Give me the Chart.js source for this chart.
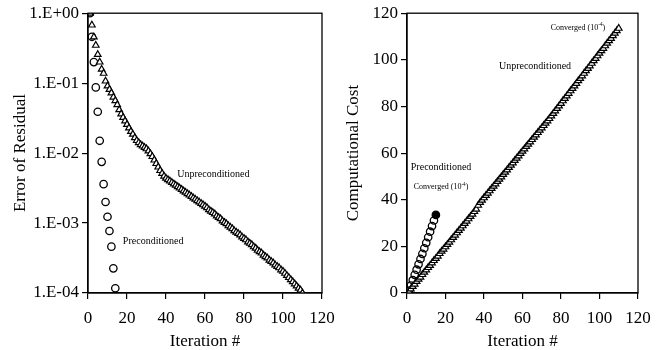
<!DOCTYPE html>
<html><head><meta charset="utf-8">
<script src="https://cdn.jsdelivr.net/npm/chart.js@4"></script>
<style>
html,body{margin:0;padding:0;background:#fff;}
#wrap{position:relative;width:658px;height:350px;background:#fff;}
#c1{position:absolute;left:0;top:0;}
#c2{position:absolute;left:330px;top:0;}
</style></head><body>
<div id="wrap"><canvas id="c1" width="345" height="350"></canvas><canvas id="c2" width="328" height="350"></canvas></div>
<script>
// ---------- data ----------
const xTicks = [0, 20, 40, 60, 80, 100, 120];
const yLogTickValues = [1, 0.1, 0.01, 0.001, 0.0001];
const yLogTickLabels = ['1.E+00', '1.E-01', '1.E-02', '1.E-03', '1.E-04'];
const yCostTicks = [0, 20, 40, 60, 80, 100, 120];

// Error of residual, unpreconditioned (iterations 1..110)
const errUnpre = [
1.0, 0.676, 0.457, 0.347, 0.257, 0.200, 0.158, 0.138, 0.107, 0.0912,
0.0813, 0.0724, 0.0631, 0.0562, 0.0490, 0.0417, 0.0363, 0.0324, 0.0288, 0.0257,
0.0229, 0.0204, 0.0186, 0.0166, 0.0151, 0.0141, 0.0132, 0.0126, 0.0120, 0.0115,
0.0107, 0.00977, 0.00891, 0.00794, 0.00708, 0.00631, 0.00562, 0.00513, 0.00468, 0.00437,
0.00417, 0.00398, 0.00380, 0.00363, 0.00347, 0.00331, 0.00316, 0.00302, 0.00288, 0.00275,
0.00263, 0.00251, 0.00240, 0.00229, 0.00219, 0.00209, 0.00200, 0.00191, 0.00182, 0.00174,
0.00166, 0.00155, 0.00148, 0.00141, 0.00135, 0.00126, 0.00120, 0.00115, 0.00107, 0.00102,
0.000977, 0.000912, 0.000871, 0.000832, 0.000776, 0.000741, 0.000708, 0.000676, 0.000631, 0.000603,
0.000575, 0.000537, 0.000513, 0.000490, 0.000457, 0.000437, 0.000407, 0.000389, 0.000372, 0.000347,
0.000331, 0.000316, 0.000295, 0.000282, 0.000269, 0.000251, 0.000240, 0.000229, 0.000214, 0.000204,
0.000191, 0.000178, 0.000166, 0.000155, 0.000145, 0.000135, 0.000126, 0.000117, 0.000110, 0.000100
];
// Error of residual, preconditioned (iterations 1..14)
const errPre = [1.0, 0.46, 0.20, 0.087, 0.039, 0.015, 0.0075, 0.0036, 0.0020, 0.00123, 0.00077, 0.00046, 0.000225, 0.000117];

// Computational cost, unpreconditioned (iterations 1..110)
const costUnpre = [
0.6, 1.7, 2.8, 3.8, 4.9, 5.9, 6.8, 7.9, 8.9, 9.9,
10.9, 11.8, 12.9, 13.9, 14.8, 15.8, 16.9, 17.9, 18.8, 19.8,
20.8, 21.8, 22.8, 23.8, 24.8, 25.8, 26.8, 27.8, 28.8, 29.8,
30.8, 31.8, 32.8, 33.8, 34.9, 35.9, 37.6, 38.8, 39.8, 40.8,
41.8, 42.8, 43.8, 44.8, 45.8, 46.8, 47.8, 48.8, 49.8, 50.8,
51.8, 52.8, 53.8, 54.8, 55.8, 56.8, 57.8, 58.8, 59.8, 60.8,
61.8, 62.8, 63.8, 64.8, 65.8, 66.8, 67.8, 68.8, 69.8, 70.8,
71.8, 72.8, 73.8, 74.8, 75.9, 77.0, 78.1, 79.1, 80.2, 81.3,
82.4, 83.4, 84.5, 85.6, 86.7, 87.7, 88.8, 89.9, 91.0, 92.0,
93.1, 94.2, 95.3, 96.3, 97.4, 98.5, 99.6, 100.6, 101.7, 102.8,
103.9, 104.9, 106.0, 107.1, 108.2, 109.2, 110.3, 111.4, 112.5, 113.5
];
// Computational cost, preconditioned (iterations 1..15; last = converged)
const costPre = [1.0, 3.2, 5.5, 7.8, 10.0, 12.3, 14.6, 16.8, 19.2, 21.5, 23.9, 26.3, 28.7, 31.1, 33.5];

// ---------- styling ----------
const FONT = "'Liberation Serif', 'Times New Roman', serif";
const toXY = arr => arr.map((v, i) => ({x: i + 1, y: v}));

const extras = {
  id: 'extras',
  afterDatasetsDraw(chart, args, opts) {
    const ctx = chart.ctx, a = chart.chartArea;
    ctx.save();
    ctx.strokeStyle = '#000';
    ctx.lineWidth = 1.3;
    ctx.strokeRect(a.left, a.top, a.right - a.left, a.bottom - a.top);
    const xs = chart.scales.x, ys = chart.scales.y;
    (opts.labels || []).forEach(l => {
      const px = xs.getPixelForValue(l.x), py = ys.getPixelForValue(l.y);
      const size = l.size;
      const parts = l.parts;
      let total = 0;
      const widths = parts.map(p => {
        ctx.font = `${p.sup ? size * 0.65 : size}px ${FONT}`;
        const w = ctx.measureText(p.t).width; total += w; return w;
      });
      let cx = px - total / 2;
      ctx.fillStyle = '#000';
      ctx.textBaseline = 'middle';
      ctx.textAlign = 'left';
      parts.forEach((p, i) => {
        ctx.font = `${p.sup ? size * 0.65 : size}px ${FONT}`;
        ctx.fillText(p.t, cx, p.sup ? py - size * 0.35 : py);
        cx += widths[i];
      });
    });
    ctx.restore();
  }
};

function xScale() {
  return {
    type: 'linear', min: 0, max: 120,
    afterBuildTicks(s) { s.ticks = xTicks.map(v => ({value: v})); },
    ticks: {color: '#000', font: {family: FONT, size: 17}, padding: 9, maxRotation: 0, autoSkip: false},
    grid: {drawOnChartArea: false, tickLength: 6, color: '#000', lineWidth: 1.2},
    border: {color: '#000', width: 1.3},
    title: {display: true, text: 'Iteration #', color: '#000', font: {family: FONT, size: 17}, padding: {top: 0, bottom: -2}},
    afterFit(s) { s.height = 57; s.paddingLeft = 0; s.paddingRight = 0; }
  };
}

const conv = () => [{t: 'Converged (10'}, {t: '-4', sup: true}, {t: ')'}];

const triStyle = {pointStyle: 'triangle', pointRadius: 3.8, borderColor: '#000', backgroundColor: '#fff', borderWidth: 1.2, showLine: false};

new Chart(document.getElementById('c1'), {
  type: 'scatter',
  data: {
    datasets: [
      Object.assign({label: 'Unpreconditioned', data: toXY(errUnpre)}, triStyle),
      {label: 'Preconditioned', data: toXY(errPre), pointStyle: 'circle', pointRadius: 3.7,
       borderColor: '#000', backgroundColor: 'rgba(255,255,255,0)', borderWidth: 1.3, showLine: false}
    ]
  },
  options: {
    responsive: false, animation: false, devicePixelRatio: 1,
    layout: {padding: {top: 13, right: 23, left: 0, bottom: 0}},
    plugins: {
      legend: {display: false}, tooltip: {enabled: false},
      extras: {labels: [
        {x: 64.3, y: 0.0049, size: 10, parts: [{t: 'Unpreconditioned'}]},
        {x: 33.4, y: 0.00055, size: 10, parts: [{t: 'Preconditioned'}]}
      ]}
    },
    scales: {
      x: xScale(),
      y: {
        type: 'logarithmic', min: 0.0001, max: 1,
        afterBuildTicks(s) { s.ticks = yLogTickValues.map(v => ({value: v})); },
        ticks: {color: '#000', font: {family: FONT, size: 17}, padding: 3, autoSkip: false,
          callback: (v) => { const i = yLogTickValues.findIndex(t => Math.abs(t - v) < t * 1e-6); return i >= 0 ? yLogTickLabels[i] : ''; }},
        grid: {drawOnChartArea: false, tickLength: 6, color: '#000', lineWidth: 1.2},
        border: {color: '#000', width: 1.3},
        title: {display: true, text: 'Error of Residual', color: '#000', font: {family: FONT, size: 17}, padding: {top: 10, bottom: 0}},
        afterFit(s) { s.width = 88; }
      }
    }
  },
  plugins: [extras]
});

new Chart(document.getElementById('c2'), {
  type: 'scatter',
  data: {
    datasets: [
      Object.assign({label: 'Unpreconditioned', data: toXY(costUnpre)}, triStyle),
      {label: 'Preconditioned', data: toXY(costPre), pointStyle: 'circle', pointRadius: 3.7,
       borderColor: '#000',
       backgroundColor: costPre.map((v, i) => i === costPre.length - 1 ? '#000' : 'rgba(255,255,255,0)'),
       borderWidth: 1.3, showLine: false}
    ]
  },
  options: {
    responsive: false, animation: false, devicePixelRatio: 1,
    layout: {padding: {top: 13, right: 20, left: 0, bottom: 0}},
    plugins: {
      legend: {display: false}, tooltip: {enabled: false},
      extras: {labels: [
        {x: 88.8, y: 113.7, size: 8, parts: conv()},
        {x: 66.5, y: 97.4, size: 10, parts: [{t: 'Unpreconditioned'}]},
        {x: 17.7, y: 53.8, size: 10, parts: [{t: 'Preconditioned'}]},
        {x: 17.7, y: 45.3, size: 8, parts: conv()}
      ]}
    },
    scales: {
      x: xScale(),
      y: {
        type: 'linear', min: 0, max: 120,
        afterBuildTicks(s) { s.ticks = yCostTicks.map(v => ({value: v})); },
        ticks: {color: '#000', font: {family: FONT, size: 17}, padding: 3, autoSkip: false},
        grid: {drawOnChartArea: false, tickLength: 6, color: '#000', lineWidth: 1.2},
        border: {color: '#000', width: 1.3},
        title: {display: true, text: 'Computational Cost', color: '#000', font: {family: FONT, size: 17}, padding: {top: 13, bottom: 0}},
        afterFit(s) { s.width = 77; }
      }
    }
  },
  plugins: [extras]
});
</script>
</body></html>
